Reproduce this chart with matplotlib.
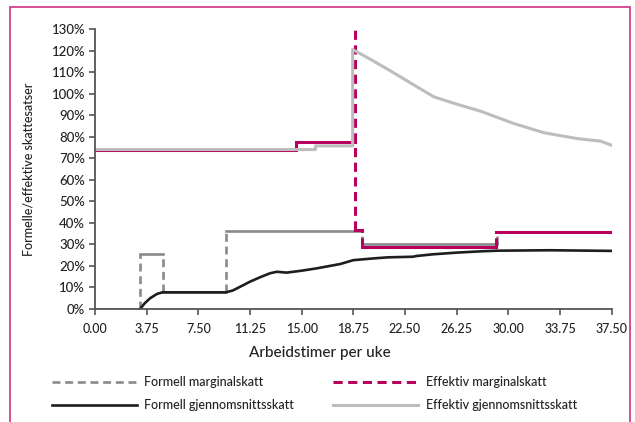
import matplotlib
matplotlib.use("Agg")
import matplotlib.pyplot as plt
from matplotlib.lines import Line2D
from matplotlib.patches import Rectangle

plt.rcParams['font.family'] = ['Lato', 'DejaVu Sans']
plt.rcParams['font.weight'] = 'medium'

# hours per week (x) and tax rates in percent (y)
x_ticks = [0, 3.75, 7.5, 11.25, 15, 18.75, 22.5, 26.25, 30, 33.75, 37.5]
x_tick_labels = ["0.00", "3.75", "7.50", "11.25", "15.00", "18.75",
                 "22.50", "26.25", "30.00", "33.75", "37.50"]
y_ticks = [0, 10, 20, 30, 40, 50, 60, 70, 80, 90, 100, 110, 120, 130]
y_tick_labels = [f"{v}%" for v in y_ticks]

# step series: edges along x, one value per step
formell_marg_edges = [0, 3.27, 4.9, 9.5, 19.4, 29.2, 37.5]
formell_marg_vals = [0, 25.6, 7.8, 36.4, 30.2, 36.0]

# zero-width step at 18.85 = spike far above the axis
eff_marg_edges = [0, 14.6, 18.85, 18.85, 19.4, 29.1, 37.5]
eff_marg_vals = [74.0, 77.8, 300.0, 36.5, 28.8, 36.0]

formell_avg_x = [3.27, 3.6, 4.0, 4.5, 4.9, 9.5, 10.0, 10.8, 11.25, 12.0, 12.7,
                 13.2, 13.9, 15.0, 16.1, 17.8, 18.75, 20.2, 21.25, 23.1, 23.3,
                 24.5, 26.25, 28.0, 29.2, 33.0, 37.5]
formell_avg_y = [0.0, 2.6, 5.0, 7.0, 7.75, 7.75, 8.6, 11.2, 12.7, 14.8, 16.6,
                 17.3, 16.9, 17.8, 18.9, 20.9, 22.7, 23.5, 24.0, 24.3, 24.6,
                 25.4, 26.2, 26.8, 27.1, 27.3, 27.0]

eff_avg_x = [0, 16.0, 16.0, 18.7, 18.7, 20.0, 21.25, 22.5, 23.75, 24.6, 26.1,
             28.0, 30.4, 32.6, 35.0, 36.7, 37.5]
eff_avg_y = [74.1, 74.1, 75.8, 75.8, 120.6, 116.0, 111.4, 106.6, 101.8, 98.6,
             95.5, 91.9, 86.2, 81.9, 79.2, 78.0, 76.1]

legend_labels = ["Formell marginalskatt", "Effektiv marginalskatt",
                 "Formell gjennomsnittsskatt", "Effektiv gjennomsnittsskatt"]

GREY = '#8a8a8a'
MAGENTA = '#b8005f'
BLACK = '#1e1e1e'
LIGHT = '#bdbdbd'
AXIS = '#555555'
BORDER = '#d4428c'
TEXT = '#222222'
DASH = (0, (3.0, 1.8))


def draw_steps(ax, edges, vals, color, lw, zorder):
    """Horizontal steps solid, vertical jumps dashed."""
    for i, v in enumerate(vals):
        if edges[i + 1] > edges[i]:
            ax.plot([edges[i], edges[i + 1]], [v, v], color=color, lw=lw,
                    solid_capstyle='projecting', zorder=zorder)
    # vertical jumps, merging zero-width steps into one span
    i = 1
    while i < len(vals):
        x = edges[i]
        lo = hi = vals[i - 1]
        j = i
        while j < len(vals) and edges[j] == x:
            lo = min(lo, vals[j])
            hi = max(hi, vals[j])
            j += 1
        ax.plot([x, x], [lo, hi], color=color, lw=lw, linestyle=DASH,
                dash_capstyle='butt', zorder=zorder)
        i = j


fig = plt.figure(figsize=(6.35, 4.22), dpi=100)
ax = fig.add_axes([0.1496, 0.2678, 0.8137, 0.6628])

draw_steps(ax, formell_marg_edges, formell_marg_vals, GREY, 1.9, 2)
ax.plot(formell_avg_x, formell_avg_y, color=BLACK, lw=1.9, zorder=3)
draw_steps(ax, eff_marg_edges, eff_marg_vals, MAGENTA, 2.2, 4)
ax.plot(eff_avg_x, eff_avg_y, color=LIGHT, lw=2.2, zorder=5)

ax.set_xlim(0, 37.5)
ax.set_ylim(0, 130)
ax.set_xticks(x_ticks)
ax.set_xticklabels(x_tick_labels)
ax.set_yticks(y_ticks)
ax.set_yticklabels(y_tick_labels)
for s in ['top', 'right']:
    ax.spines[s].set_visible(False)
for s in ['left', 'bottom']:
    ax.spines[s].set_color(AXIS)
    ax.spines[s].set_linewidth(1.3)
    ax.spines[s].set_zorder(6)
ax.tick_params(direction='out', length=4, width=1.2, color=AXIS,
               labelsize=9.5, labelcolor=TEXT)
ax.tick_params(axis='x', pad=6, labelsize=9)
ax.tick_params(axis='y', pad=3)

fig.text(320 / 635, 1 - 353 / 422, "Arbeidstimer per uke", ha='center',
         va='center', fontsize=11, color=TEXT)
fig.text(29 / 635, 1 - 169 / 422, "Formelle/effektive skattesatser",
         rotation=90, ha='center', va='center', fontsize=9, color=TEXT)

# legend, two columns below the plot
leg_styles = [(GREY, 1.9, DASH), (MAGENTA, 2.2, DASH),
              (BLACK, 1.9, '-'), (LIGHT, 2.2, '-')]
leg_cols = [(51.7, 136.7, 144), (333.3, 418.3, 426)]
leg_rows = [381.5, 405]
for k, (label, (c, lw, ls)) in enumerate(zip(legend_labels, leg_styles)):
    x0, x1, xt = leg_cols[k % 2]
    y = 1 - leg_rows[k // 2] / 422
    fig.add_artist(Line2D([x0 / 635, x1 / 635], [y, y], color=c, lw=lw,
                          linestyle=ls, dash_capstyle='butt',
                          transform=fig.transFigure))
    fig.text(xt / 635, y, label, ha='left', va='center', fontsize=9,
             color=TEXT)

fig.add_artist(Rectangle((10 / 635, -0.05), 620 / 635, 1.034,
                         transform=fig.transFigure, fill=False,
                         edgecolor=BORDER, lw=1.3))

fig.savefig("out.png", dpi=100)
